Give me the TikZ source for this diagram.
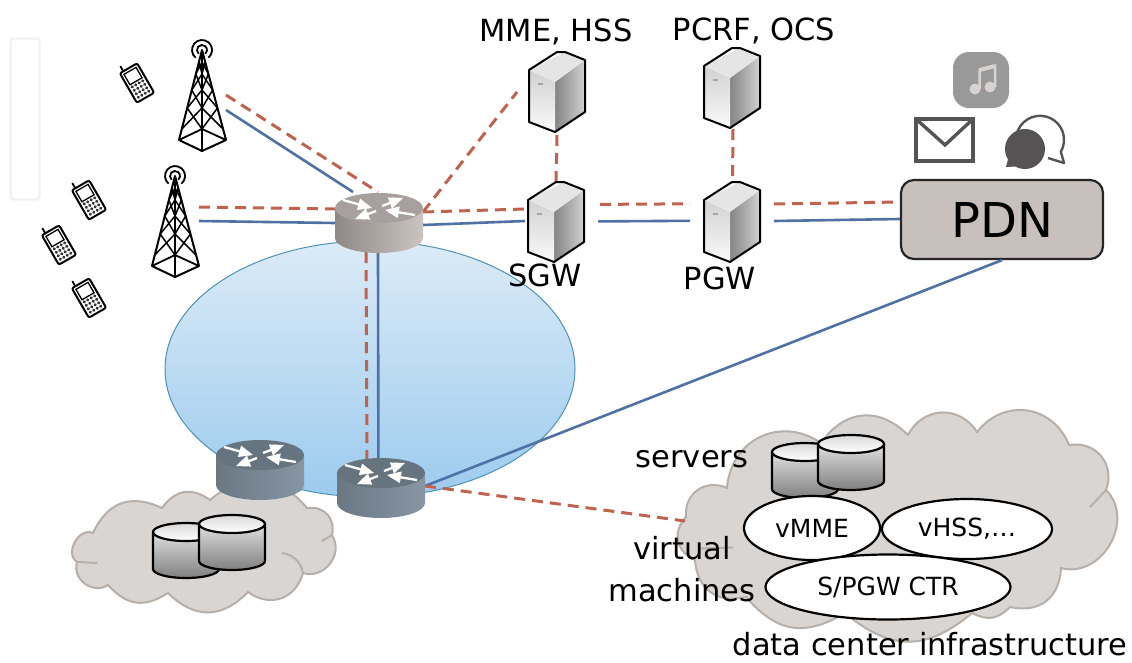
\documentclass[tikz,border=0pt]{standalone}
\usepackage{fontspec}
\setmainfont{DejaVu Sans}
\usetikzlibrary{calc,arrows,positioning,shapes.geometric}

\definecolor{linkred}{HTML}{C0634E}
\definecolor{linkblue}{HTML}{4F71A3}
\definecolor{cloudfill}{HTML}{D9D5D2}
\definecolor{cloudline}{HTML}{B6AFAA}
\definecolor{pdnfill}{HTML}{C7C0BD}
\definecolor{icongrey}{HTML}{555353}
\definecolor{slateL}{HTML}{6A7884}
\definecolor{slateR}{HTML}{8895A3}
\definecolor{slateT}{HTML}{667480}
\definecolor{coreL}{HTML}{8F8886}
\definecolor{coreR}{HTML}{CBC4C1}
\definecolor{coreT}{HTML}{A8A09E}
\definecolor{poolT}{HTML}{DCEBF7}
\definecolor{poolB}{HTML}{9CCBEE}
\definecolor{poolL}{HTML}{4E93B5}
\definecolor{noteC}{HTML}{D8D3D1}

\tikzset{
  pics/router/.style n args={3}{code={
    \shade[left color=#1,right color=#2] (-44,0) -- (-44,30) arc[start angle=180,end angle=0,x radius=44,y radius=15] -- (44,0) -- cycle;
    \fill[#3] (0,0) ellipse (44 and 15);
    \foreach \xa/\ya/\xb/\yb in {-36/-8/-7/0, 3/-2/24/-10, 36/7/6/2, -3/3/-24/11}
      \draw[white,line width=2.3pt,-triangle 45] (\xa,\ya) -- (\xb,\yb);
  }},
  pics/tower/.style={code={
    \draw[line width=1.8pt] (130:5) arc[start angle=130,end angle=410,radius=5];
    \draw[line width=1.8pt] (130:10) arc[start angle=130,end angle=410,radius=10];
    \draw[line width=2pt,line join=round] (-23,90) -- (0,0) -- (24,90) -- (0,101) -- cycle;
    \draw[line width=2pt] (0.2,0) -- (0.2,101);
    \draw[line width=1.8pt] (-23,90) -- (0,79) -- (24,90);
    \foreach \ya/\yb in {12/24,24/40,40/58,58/79} {
      \draw[line width=1.5pt] ({-23*\ya/90},\ya) -- (0,\yb) -- ({24*\ya/90},\ya);
      \draw[line width=1.5pt] ({-23*\yb/90},\yb) -- (0,\ya) -- ({24*\yb/90},\yb);
    }
  }},
  pics/phone/.style={code={
    \draw[line width=1.8pt] (-6,-17) -- (-6,-23);
    \draw[line width=2pt,fill=white,rounded corners=2pt] (-10,-17) rectangle (10,17);
    \draw[line width=1.3pt] (-7,-14) rectangle (7,-2);
    \foreach \xa in {-6,-2,2,6}
      \foreach \ya in {1,5,9,13}
        \fill[black!80] (\xa,\ya) circle (1.7);
  }},
  pics/appserver/.style={code={
    \shade[left color=black!48,right color=black!18] (26,30) -- (56,8) -- (56,60) -- (26,80) -- cycle;
    \shade[top color=black!18,bottom color=black!2] (0,18) -- (26,30) -- (26,80) -- (0,70) -- cycle;
    \fill[black!10] (0,18) -- (36,0) -- (56,8) -- (26,30) -- cycle;
    \draw[line width=2pt,line join=round] (0,18) -- (28,0) -- (36,0) -- (56,8) -- (56,60) -- (26,80) -- (0,70) -- cycle;
    \fill[black!35] (9,31) rectangle (14,33);
  }},
  pics/drum/.style={code={
    \shade[top color=black!12,bottom color=black!50] (-33,0) -- (-33,37) arc[start angle=180,end angle=0,x radius=33,y radius=9] -- (33,0) -- cycle;
    \draw[line width=2.2pt] (-33,0) -- (-33,37) arc[start angle=180,end angle=0,x radius=33,y radius=9] -- (33,0);
    \shade[draw=black,line width=2.2pt,top color=black!15,bottom color=white] (0,0) ellipse (33 and 9);
  }},
}

\begin{document}
\begin{tikzpicture}[x=1pt,y=-1pt,
    redlink/.style={draw=linkred,line width=3pt,dash pattern=on 11pt off 7pt},
    bluelink/.style={draw=linkblue,line width=2.6pt},
    cloud line/.style={draw=cloudline,fill=cloudfill,line width=2pt},
    inner line/.style={draw=cloudline,line width=2pt},
    lobe/.style={bend left=#1,looseness=1.2},
    vm/.style={draw,fill=white,line width=2.2pt,ellipse,inner sep=0pt,font=\fontsize{25}{27}\selectfont},
    label/.style={inner sep=0pt,font=\fontsize{30.5}{32}\selectfont},
  ]
  \useasboundingbox (0,0) rectangle (1132,662);
  \fill[white] (0,0) rectangle (1132,662);

  \draw[black!6,line width=2pt,rounded corners=3pt] (10.5,38.5) rectangle (39.5,199.5);

  % core network
  \draw[top color=poolT,bottom color=poolB,draw=poolL,line width=1pt] (370,369) ellipse (205 and 128);

  % data center clouds
  \draw[cloud line] (93,533) to[lobe=45] (162,508) to[lobe=45] (210,500) to[lobe=45] (307,508)
    to[lobe=55] (332,535) to[lobe=70] (303,573) to[lobe=55] (248,592) to[lobe=45] (168,593)
    to[lobe=40] (108,585) to[lobe=70] (77,562) to[lobe=85] (93,533) -- cycle;
  \draw[inner line] (332,535) -- (322,541) (97,563) -- (77,562) (282,553) to[bend left=35] (303,573);
  \draw[cloud line] (686,517) to[lobe=60] (727,488) to[lobe=60] (821,443) to[lobe=50] (908,435)
    to[lobe=60] (977,432) to[lobe=60] (1069,445) to[lobe=60] (1106,490) to[lobe=75] (1061,568)
    to[lobe=50] (1010,607) to[lobe=35] (972,613) to[lobe=40] (845,613) to[lobe=40] (746,597)
    to[lobe=50] (695,560) to[lobe=55] (686,517) -- cycle;
  \draw[inner line] (1106,490) -- (1090,507) (700,548.4) -- (733,547.6);

  \coordinate (towerA) at (226,95);
  \coordinate (towerAb) at (226,110);
  \coordinate (towerB) at (199,207);
  \coordinate (towerBb) at (199,221);
  \coordinate (coreN) at (378,192);
  \coordinate (coreNb) at (353,192);
  \coordinate (coreW) at (335,209);
  \coordinate (coreWb) at (335,223);
  \coordinate (coreE) at (423,212);
  \coordinate (coreEb) at (423,225);
  \coordinate (coreS) at (366,252);
  \coordinate (coreSb) at (378,252);
  \coordinate (edgeN) at (367,462);
  \coordinate (edgeNb) at (378.4,462);
  \coordinate (edgeE) at (425,486);
  \coordinate (mmeW) at (517,92);
  \coordinate (mmeS) at (557,135);
  \coordinate (pcrfS) at (733,129);
  \coordinate (sgwW) at (525,209);
  \coordinate (sgwWb) at (525,221);
  \coordinate (sgwN) at (556,182);
  \coordinate (sgwE) at (600,204.4);
  \coordinate (sgwEb) at (598,221.4);
  \coordinate (pgwW) at (690,203.8);
  \coordinate (pgwWb) at (690,220.8);
  \coordinate (pgwN) at (732.5,182);
  \coordinate (pgwE) at (774,204);
  \coordinate (pgwEb) at (774,221);
  \coordinate (dcW) at (685,521);

  \node[draw=black!85,fill=pdnfill,line width=2.2pt,rounded corners=13pt,minimum width=202pt,minimum height=79pt,font=\fontsize{48}{50}\selectfont] (pdn) at (1002,219.5) {PDN};

  % links
  \draw[redlink] (towerA) -- (coreN);
  \draw[bluelink] (towerAb) -- (coreNb);
  \draw[redlink] (towerB) -- (coreW);
  \draw[bluelink] (towerBb) -- (coreWb);
  \draw[redlink] (coreE) -- (mmeW);
  \draw[redlink] (coreE) -- (sgwW);
  \draw[bluelink] (coreEb) -- (sgwWb);
  \draw[redlink] (sgwE) -- (pgwW);
  \draw[bluelink] (sgwEb) -- (pgwWb);
  \draw[redlink] (pgwE) -- (pdn.west |- 0,202);
  \draw[bluelink] (pgwEb) -- (pdn.west |- 0,219);
  \draw[redlink] (mmeS) -- (sgwN);
  \draw[redlink] (pcrfS) -- (pgwN);
  \draw[redlink] (coreS) -- (edgeN);
  \draw[bluelink] (coreSb) -- (edgeNb);
  \draw[bluelink] (edgeE) -- (pdn.south);
  \draw[redlink] (edgeE) -- (dcW);

  % routers
  \pic at (379,208) {router={coreL}{coreR}{coreT}};
  \pic at (260,455) {router={slateL}{slateR}{slateT}};
  \pic at (381,473) {router={slateL}{slateR}{slateT}};

  % towers and phones
  \pic at (202,50) {tower};
  \pic at (175,176) {tower};
  \pic[rotate=30] at (137,83) {phone};
  \pic[rotate=30] at (89,200) {phone};
  \pic[rotate=30] at (59,245) {phone};
  \pic[rotate=30] at (89,298) {phone};

  % servers
  \pic at (529,52) {appserver};
  \pic at (704,48) {appserver};
  \pic at (528,182) {appserver};
  \pic at (704,182) {appserver};
  \pic at (186,532) {drum};
  \pic at (232,524) {drum};
  \pic at (805,452) {drum};
  \pic at (851,444) {drum};

  % applications
  \fill[black!40,rounded corners=16pt] (953,52) rectangle (1009,108);
  \fill[noteC] (975,89) circle (5.5) (990,87) circle (5.5);
  \draw[noteC,line width=2.5pt] (979.5,89) -- (979.5,70) -- (995,66) -- (995,87);
  \draw[noteC,line width=4pt] (979.5,70) -- (995,66);
  \draw[icongrey,fill=white,line width=3.4pt] (916,119) rectangle (973,161);
  \draw[icongrey,line width=3.4pt] (916,119) -- (945,145) -- (973,119);
  \draw[icongrey,line width=2.4pt,line join=round] (1017.5,148) arc[start angle=160,end angle=390,radius=24] -- (1064,163) -- (1048,158);
  \fill[icongrey] (1025,149) circle (20) (1006,167) -- (1010,152) -- (1025,166) -- cycle;

  % labels
  \node[label] (mme) at (556,32) {MME, HSS};
  \node[label] (pcrf) at (754,31) {PCRF, OCS};
  \node[label] (sgw) at (545,275) {SGW};
  \node[label] (pgw) at (720,278) {PGW};
  \node[label] (servers) at (692,459) {servers};
  \node[label] (virtual) at (682,548) {virtual};
  \node[label] (machines) at (682,590) {machines};
  \node[label] (dcinfra) at (930,644) {data center infrastructure};

  \node[vm,minimum width=136pt,minimum height=64pt] (vmme) at (812,528) {vMME};
  \node[vm,minimum width=170pt,minimum height=60pt] (vhss) at (967,529) {vHSS,…};
  \node[vm,minimum width=245pt,minimum height=65pt] (spgw) at (888,587) {S/PGW CTR};
\end{tikzpicture}
\end{document}
